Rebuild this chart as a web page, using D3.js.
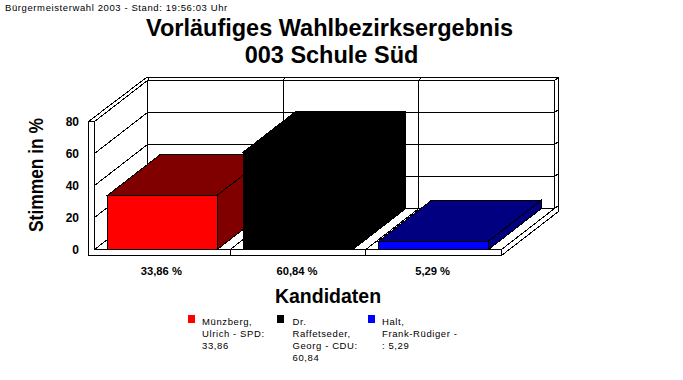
<!DOCTYPE html>
<html>
<head>
<meta charset="utf-8">
<script src="https://cdn.jsdelivr.net/npm/d3@7"></script>
<style>
  html, body { margin: 0; padding: 0; background: #fff; }
  svg { display: block; }
  text { font-family: "Liberation Sans", Arial, sans-serif; fill: #000; }
  .title { font-size: 23.5px; font-weight: bold; text-anchor: middle; }
  .axis-title { font-size: 19.5px; font-weight: bold; }
  .y-title { font-size: 20px; font-weight: bold; }
  .tick-txt { font-size: 12px; font-weight: bold; }
  .val-txt { font-size: 11.2px; font-weight: bold; text-anchor: middle; }
  .small { font-size: 9.5px; letter-spacing: 0.6px; }
  .wire { fill: none; stroke: #000; stroke-width: 1; shape-rendering: crispEdges; }
  .bar { stroke: #000; stroke-width: 1; shape-rendering: crispEdges; }
</style>
</head>
<body>
<div id="chart"></div>
<script>
const candidates = ['Münzberg, Ulrich - SPD', 'Dr. Raffetseder, Georg - CDU', 'Halt, Frank-Rüdiger -'];
const votes = [33.86, 60.84, 5.29];
const voteLabels = ['33,86 %', '60,84 %', '5,29 %'];
const frontColors = ['#ff0000', '#000000', '#0000ff'];
const shadeColors = ['#800000', '#000000', '#000080'];
const yTicks = [0, 20, 40, 60, 80];
const legendLines = [
  ['Münzberg,', 'Ulrich - SPD:', '33,86'],
  ['Dr.', 'Raffetseder,', 'Georg - CDU:', '60,84'],
  ['Halt,', 'Frank-Rüdiger -', ': 5,29'],
];

const W = 683;
const H = 380;
const DEPTH_X = 53;
const DEPTH_Y = -41;
const WALL = 6;

const svg = d3.select('#chart').append('svg').attr('width', W).attr('height', H);

const xScale = d3.scaleBand().domain(candidates).range([94.5, 501.5]).paddingInner(0).paddingOuter(0);
const yScale = d3.scaleLinear().domain([0, 80]).range([249.5, 121.5]);
const xEdge = (i) => xScale.range()[0] + i * xScale.bandwidth();
const [x0, x1] = xScale.range();
const y0 = yScale(0);
const yTop = yScale(80);
const barInset = 13;

const line = (pts) => `M${pts.map((p) => p.join(',')).join('L')}`;
const wire = (pts) => svg.append('path').attr('class', 'wire').attr('d', line(pts));

// back wall + gridlines, left wall + floor
yTicks.forEach((t) => {
  const y = yScale(t);
  wire([[x0, y], [x0 + DEPTH_X, y + DEPTH_Y], [x1 + DEPTH_X, y + DEPTH_Y], [x1 + DEPTH_X + 4, y + DEPTH_Y - 3]]);
});
candidates.forEach((c, i) => {
  wire([[xEdge(i), y0], [xEdge(i) + DEPTH_X, y0 + DEPTH_Y], [xEdge(i) + DEPTH_X, yTop + DEPTH_Y], [xEdge(i) + DEPTH_X + 2, yTop + DEPTH_Y - 3]]);
});
wire([[x1 + DEPTH_X, y0 + DEPTH_Y], [x1 + DEPTH_X, yTop + DEPTH_Y]]);
wire([[x1, y0], [x1 + DEPTH_X, y0 + DEPTH_Y]]);

// outer shell
wire([[x0 - WALL, yTop], [x0 + DEPTH_X - 1, yTop + DEPTH_Y - 3], [x1 + DEPTH_X + 4, yTop + DEPTH_Y - 3], [x1 + DEPTH_X + 4, y0 + DEPTH_Y + 3], [x1, y0 + WALL]]);
wire([[x0 - WALL, yTop], [x0 - WALL, y0 + WALL], [x1, y0 + WALL], [x1, y0], [x0, y0], [x0, yTop], [x0 - WALL, yTop]]);
candidates.forEach((c, i) => {
  if (i > 0) wire([[xEdge(i), y0], [xEdge(i), y0 + WALL]]);
});

// bars, back to front
votes.forEach((v, i) => {
  const left = xScale(candidates[i]) + barInset;
  const right = left + xScale.bandwidth() - 2 * barInset;
  const top = yScale(v);
  const g = svg.append('g').attr('class', 'bar');
  g.append('path').attr('fill', shadeColors[i])
    .attr('d', `${line([[right, y0], [right + DEPTH_X, y0 + DEPTH_Y], [right + DEPTH_X, top + DEPTH_Y], [right, top]])}Z`);
  g.append('path').attr('fill', shadeColors[i])
    .attr('d', `${line([[left, top], [left + DEPTH_X, top + DEPTH_Y], [right + DEPTH_X, top + DEPTH_Y], [right, top]])}Z`);
  g.append('rect').attr('fill', frontColors[i])
    .attr('x', left).attr('y', top).attr('width', right - left).attr('height', y0 - top);
});

// y axis
yTicks.forEach((t) => {
  svg.append('text').attr('class', 'tick-txt')
    .attr('x', 79).attr('y', yScale(t) + 4)
    .attr('text-anchor', 'end')
    .text(t);
});

// value labels
voteLabels.forEach((l, i) => {
  svg.append('text').attr('class', 'val-txt')
    .attr('x', xScale(candidates[i]) + xScale.bandwidth() / 2 - 1).attr('y', 275)
    .text(l);
});

// titles
svg.append('text').attr('class', 'small').attr('x', 5).attr('y', 11)
  .text('Bürgermeisterwahl 2003 - Stand: 19:56:03 Uhr');
svg.append('text').attr('class', 'title').attr('x', 329.5).attr('y', 36).text('Vorläufiges Wahlbezirksergebnis');
svg.append('text').attr('class', 'title').attr('x', 331.5).attr('y', 63).text('003 Schule Süd');
svg.append('text').attr('class', 'axis-title').attr('x', 328).attr('y', 303).attr('text-anchor', 'middle').text('Kandidaten');
svg.append('text').attr('class', 'y-title')
  .attr('transform', 'translate(43,175) rotate(-90)')
  .attr('text-anchor', 'middle')
  .attr('textLength', 114).attr('lengthAdjust', 'spacingAndGlyphs')
  .text('Stimmen in %');

// legend
const legendSwatchX = [188, 277, 368];
const legendTextX = [202, 292.5, 382];
legendLines.forEach((lines, i) => {
  svg.append('rect')
    .attr('x', legendSwatchX[i]).attr('y', 315)
    .attr('width', 7).attr('height', 8)
    .attr('fill', frontColors[i]);
  lines.forEach((l, j) => {
    svg.append('text').attr('class', 'small')
      .attr('x', legendTextX[i]).attr('y', 325 + j * 12)
      .text(l);
  });
});
</script>
</body>
</html>
